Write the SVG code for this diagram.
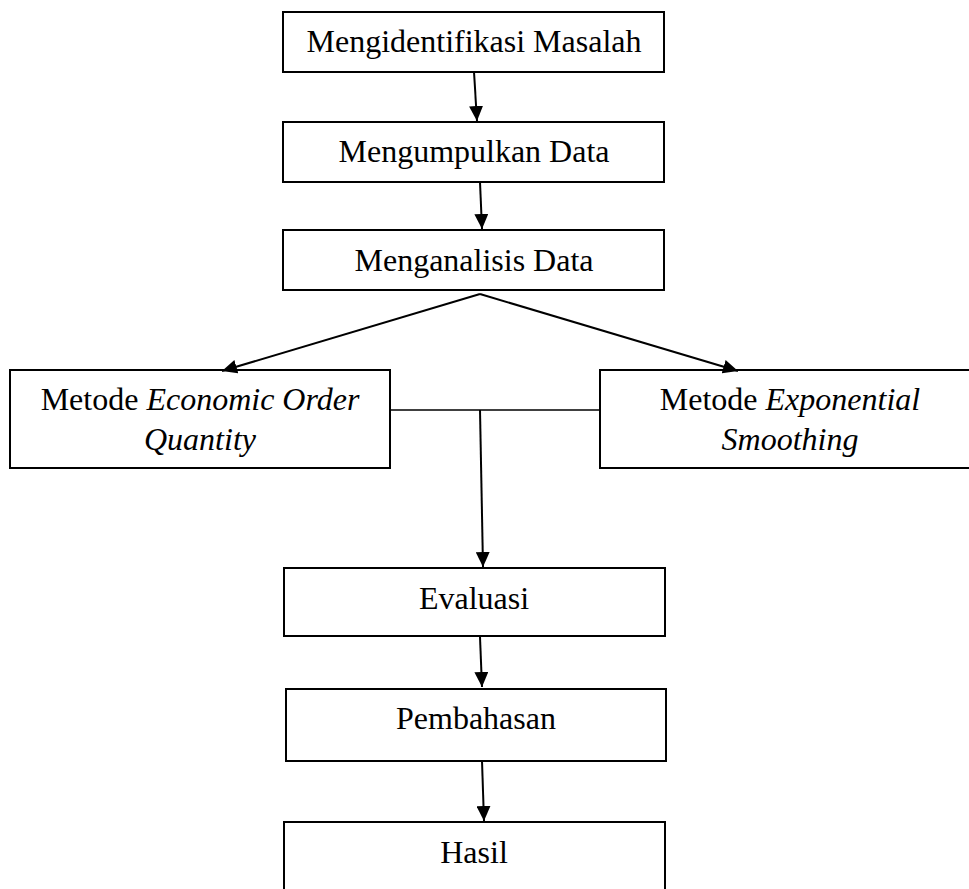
<svg xmlns="http://www.w3.org/2000/svg" width="969" height="889" viewBox="0 0 969 889">
<style>
.box{fill:#fff;stroke:#000;stroke-width:2}
.t{font-family:"Liberation Serif","Times New Roman",serif;font-size:32px;fill:#000;text-anchor:middle}
.it{font-style:italic}
.c{stroke:#000;stroke-width:2;fill:none}
</style>
<defs>
<marker id="ah" markerUnits="userSpaceOnUse" markerWidth="16" markerHeight="14" refX="15" refY="7" orient="auto">
<path d="M0,0 L15,7 L0,14 Z" fill="#000"/>
</marker>
</defs>
<rect width="969" height="889" fill="#fff"/>
<g id="n1"><rect class="box" x="283" y="12" width="381" height="60"/><text class="t" x="474" y="52">Mengidentifikasi Masalah</text></g>
<g id="n2"><rect class="box" x="283" y="122" width="381" height="60"/><text class="t" x="474" y="162">Mengumpulkan Data</text></g>
<g id="n3"><rect class="box" x="283" y="230" width="381" height="60"/><text class="t" x="474" y="271">Menganalisis Data</text></g>
<g id="n4"><rect class="box" x="10" y="370" width="380" height="98"/><text class="t" x="200" y="410">Metode <tspan class="it">Economic Order</tspan></text><text class="t it" x="200" y="450">Quantity</text></g>
<g id="n5"><rect class="box" x="600" y="370" width="380" height="98"/><text class="t" x="790" y="410">Metode <tspan class="it">Exponential</tspan></text><text class="t it" x="790" y="450">Smoothing</text></g>
<g id="n6"><rect class="box" x="284" y="568" width="381" height="68"/><text class="t" x="474" y="609">Evaluasi</text></g>
<g id="n7"><rect class="box" x="286" y="689" width="380" height="72"/><text class="t" x="476" y="729">Pembahasan</text></g>
<g id="n8"><rect class="box" x="284" y="822" width="381" height="80"/><text class="t" x="474" y="863">Hasil</text></g>
<g id="connectors">
<line class="c" x1="474" y1="72" x2="477" y2="121" marker-end="url(#ah)"/>
<line class="c" x1="480" y1="182" x2="482" y2="229" marker-end="url(#ah)"/>
<line class="c" x1="480" y1="294" x2="222" y2="371" marker-end="url(#ah)"/>
<line class="c" x1="480" y1="294" x2="738" y2="371" marker-end="url(#ah)"/>
<line class="c" x1="390" y1="410" x2="600" y2="410" style="stroke-width:1.5"/>
<line class="c" x1="480" y1="410" x2="483" y2="567" marker-end="url(#ah)"/>
<line class="c" x1="480" y1="637" x2="482" y2="687" marker-end="url(#ah)"/>
<line class="c" x1="482" y1="761" x2="484" y2="821" marker-end="url(#ah)"/>
</g>
</svg>
